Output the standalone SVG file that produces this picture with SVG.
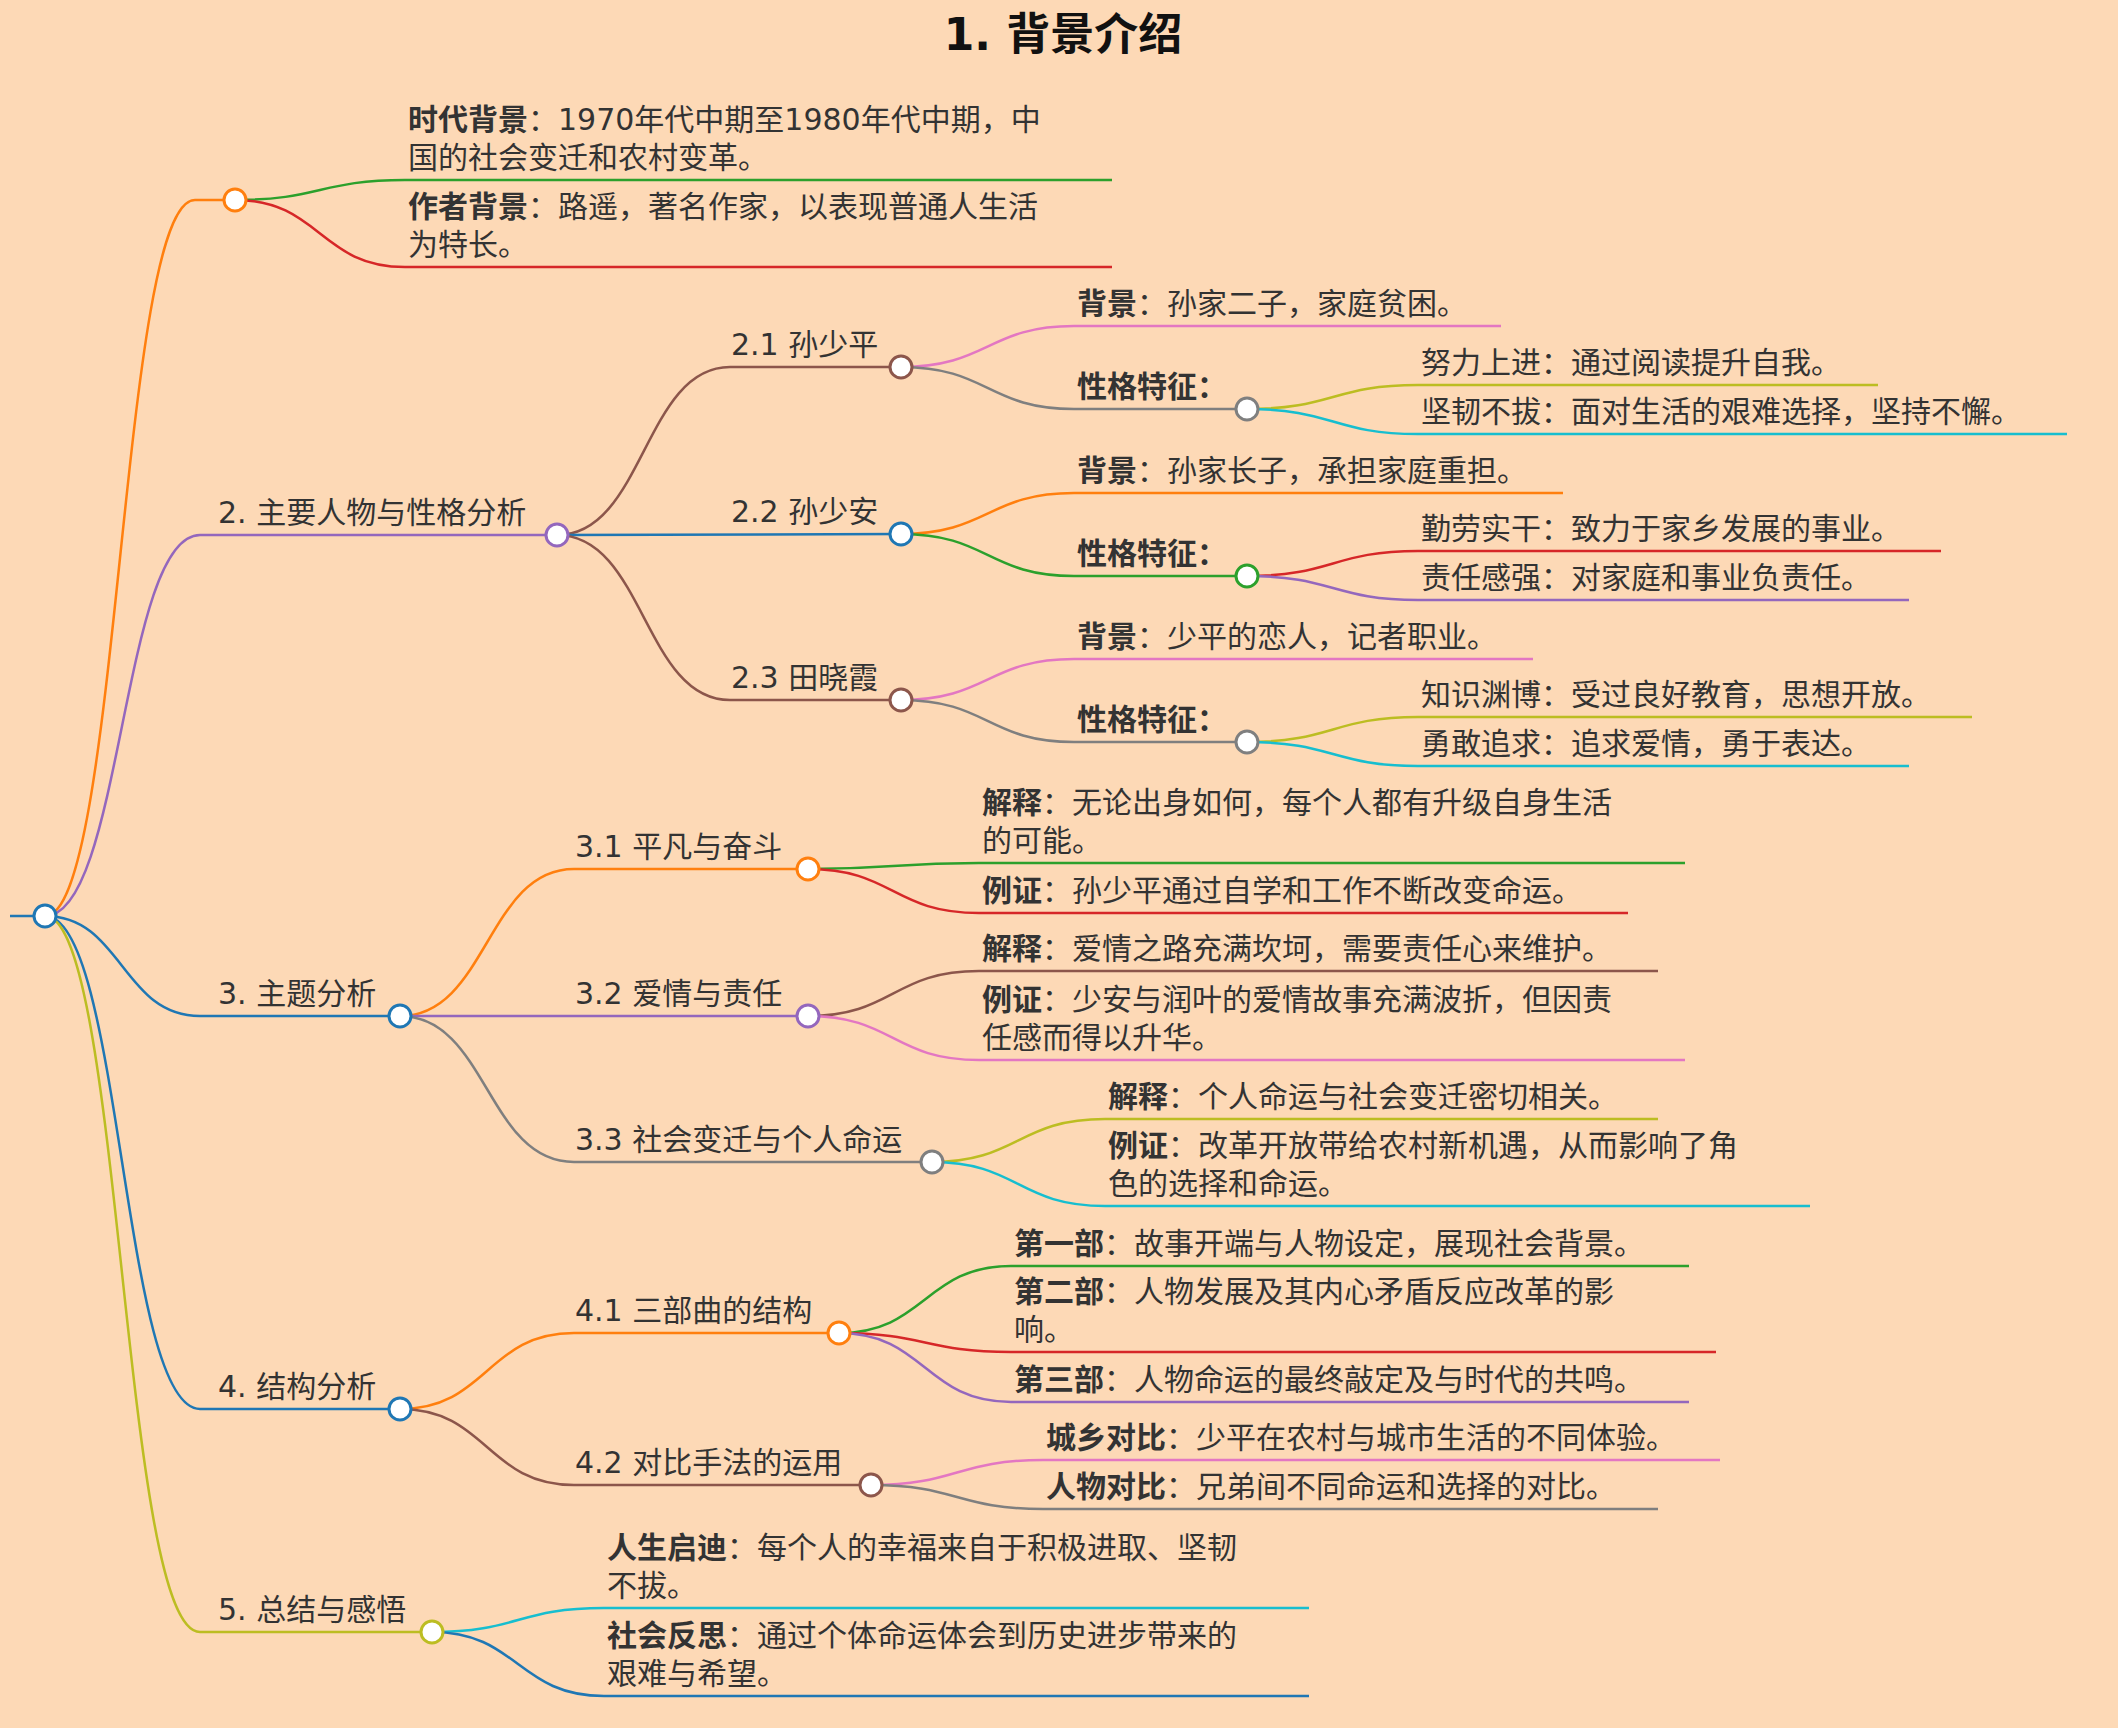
<svg xmlns="http://www.w3.org/2000/svg" width="2118" height="1728" viewBox="0 0 2118 1728">
<style>
text{font-family:"DejaVu Sans","Noto Sans CJK SC",sans-serif;font-size:30px;fill:#333}
.b{font-weight:bold}
#edges path{fill:none;stroke-width:2.5}
.n{fill:#fff;stroke-width:3}
</style>
<rect width="2118" height="1728" fill="#fdd9b6"/>
<text x="1063" y="50" text-anchor="middle" class="b" style="font-size:44px;fill:#111">1. 背景介绍</text>
<g id="edges">
<path d="M10 916 L45 916" stroke="#1f77b4"/>
<path d="M45 916 C120 916 120 200 195 200 L235 200" stroke="#ff7f0e"/>
<path d="M45 916 C122 916 122 535 200 535 L557 535" stroke="#9467bd"/>
<path d="M45 916 C122 916 122 1016 200 1016 L400 1016" stroke="#1f77b4"/>
<path d="M45 916 C122 916 122 1409 200 1409 L400 1409" stroke="#1f77b4"/>
<path d="M45 916 C122 916 122 1632 200 1632 L432 1632" stroke="#bcbd22"/>
<path d="M235 200 C320 200 320 180 405 180 L1112 180" stroke="#2ca02c"/>
<path d="M235 200 C320 200 320 267 405 267 L1112 267" stroke="#d62728"/>
<path d="M557 535 C644 535 644 367 730 367 L901 367" stroke="#8c564b"/>
<path d="M557 535 L901 534" stroke="#1f77b4"/>
<path d="M557 535 C644 535 644 700 730 700 L901 700" stroke="#8c564b"/>
<path d="M901 367 C988 367 988 326 1074 326 L1501 326" stroke="#e377c2"/>
<path d="M901 367 C988 367 988 409 1074 409 L1247 409" stroke="#7f7f7f"/>
<path d="M1247 409 C1333 409 1333 385 1418 385 L1878 385" stroke="#bcbd22"/>
<path d="M1247 409 C1333 409 1333 434 1418 434 L2067 434" stroke="#17becf"/>
<path d="M901 534 C988 534 988 493 1074 493 L1563 493" stroke="#ff7f0e"/>
<path d="M901 534 C988 534 988 576 1074 576 L1247 576" stroke="#2ca02c"/>
<path d="M1247 576 C1333 576 1333 551 1418 551 L1941 551" stroke="#d62728"/>
<path d="M1247 576 C1333 576 1333 600 1418 600 L1909 600" stroke="#9467bd"/>
<path d="M901 700 C988 700 988 659 1074 659 L1533 659" stroke="#e377c2"/>
<path d="M901 700 C988 700 988 742 1074 742 L1247 742" stroke="#7f7f7f"/>
<path d="M1247 742 C1333 742 1333 717 1418 717 L1972 717" stroke="#bcbd22"/>
<path d="M1247 742 C1333 742 1333 766 1418 766 L1909 766" stroke="#17becf"/>
<path d="M400 1016 C487 1016 487 869 574 869 L808 869" stroke="#ff7f0e"/>
<path d="M400 1016 L808 1016" stroke="#9467bd"/>
<path d="M400 1016 C487 1016 487 1162 574 1162 L932 1162" stroke="#7f7f7f"/>
<path d="M808 869 C893 869 893 863 979 863 L1685 863" stroke="#2ca02c"/>
<path d="M808 869 C893 869 893 913 979 913 L1628 913" stroke="#d62728"/>
<path d="M808 1016 C893 1016 893 971 979 971 L1658 971" stroke="#8c564b"/>
<path d="M808 1016 C893 1016 893 1060 979 1060 L1685 1060" stroke="#e377c2"/>
<path d="M932 1162 C1018 1162 1018 1119 1105 1119 L1658 1119" stroke="#bcbd22"/>
<path d="M932 1162 C1018 1162 1018 1206 1105 1206 L1810 1206" stroke="#17becf"/>
<path d="M400 1409 C487 1409 487 1333 574 1333 L839 1333" stroke="#ff7f0e"/>
<path d="M400 1409 C487 1409 487 1485 574 1485 L871 1485" stroke="#8c564b"/>
<path d="M839 1333 C925 1333 925 1266 1011 1266 L1689 1266" stroke="#2ca02c"/>
<path d="M839 1333 C925 1333 925 1352 1011 1352 L1716 1352" stroke="#d62728"/>
<path d="M839 1333 C925 1333 925 1402 1011 1402 L1689 1402" stroke="#9467bd"/>
<path d="M871 1485 C957 1485 957 1460 1043 1460 L1720 1460" stroke="#e377c2"/>
<path d="M871 1485 C957 1485 957 1509 1043 1509 L1658 1509" stroke="#7f7f7f"/>
<path d="M432 1632 C518 1632 518 1608 604 1608 L1309 1608" stroke="#17becf"/>
<path d="M432 1632 C518 1632 518 1696 604 1696 L1309 1696" stroke="#1f77b4"/>
</g>
<g id="root"><circle class="n" cx="45" cy="916" r="11" stroke="#1f77b4"/></g>
<g id="b1"><circle class="n" cx="235" cy="200" r="11" stroke="#ff7f0e"/></g>
<g id="b1a"><text x="408" y="130"><tspan class="b">时代背景</tspan>：1970年代中期至1980年代中期，中</text><text x="408" y="168">国的社会变迁和农村变革。</text></g>
<g id="b1b"><text x="408" y="217"><tspan class="b">作者背景</tspan>：路遥，著名作家，以表现普通人生活</text><text x="408" y="255">为特长。</text></g>
<g id="b2"><text x="218" y="523">2. 主要人物与性格分析</text><circle class="n" cx="557" cy="535" r="11" stroke="#9467bd"/></g>
<g id="n21"><text x="731" y="355">2.1 孙少平</text><circle class="n" cx="901" cy="367" r="11" stroke="#8c564b"/></g>
<g id="n21a"><text x="1077" y="314"><tspan class="b">背景</tspan>：孙家二子，家庭贫困。</text></g>
<g id="n21b"><text x="1077" y="397" class="b">性格特征：</text><circle class="n" cx="1247" cy="409" r="11" stroke="#7f7f7f"/></g>
<g id="n21b1"><text x="1421" y="373">努力上进：通过阅读提升自我。</text></g>
<g id="n21b2"><text x="1421" y="422">坚韧不拔：面对生活的艰难选择，坚持不懈。</text></g>
<g id="n22"><text x="731" y="522">2.2 孙少安</text><circle class="n" cx="901" cy="534" r="11" stroke="#1f77b4"/></g>
<g id="n22a"><text x="1077" y="481"><tspan class="b">背景</tspan>：孙家长子，承担家庭重担。</text></g>
<g id="n22b"><text x="1077" y="564" class="b">性格特征：</text><circle class="n" cx="1247" cy="576" r="11" stroke="#2ca02c"/></g>
<g id="n22b1"><text x="1421" y="539">勤劳实干：致力于家乡发展的事业。</text></g>
<g id="n22b2"><text x="1421" y="588">责任感强：对家庭和事业负责任。</text></g>
<g id="n23"><text x="731" y="688">2.3 田晓霞</text><circle class="n" cx="901" cy="700" r="11" stroke="#8c564b"/></g>
<g id="n23a"><text x="1077" y="647"><tspan class="b">背景</tspan>：少平的恋人，记者职业。</text></g>
<g id="n23b"><text x="1077" y="730" class="b">性格特征：</text><circle class="n" cx="1247" cy="742" r="11" stroke="#7f7f7f"/></g>
<g id="n23b1"><text x="1421" y="705">知识渊博：受过良好教育，思想开放。</text></g>
<g id="n23b2"><text x="1421" y="754">勇敢追求：追求爱情，勇于表达。</text></g>
<g id="b3"><text x="218" y="1004">3. 主题分析</text><circle class="n" cx="400" cy="1016" r="11" stroke="#1f77b4"/></g>
<g id="n31"><text x="575" y="857">3.1 平凡与奋斗</text><circle class="n" cx="808" cy="869" r="11" stroke="#ff7f0e"/></g>
<g id="n31a"><text x="982" y="813"><tspan class="b">解释</tspan>：无论出身如何，每个人都有升级自身生活</text><text x="982" y="851">的可能。</text></g>
<g id="n31b"><text x="982" y="901"><tspan class="b">例证</tspan>：孙少平通过自学和工作不断改变命运。</text></g>
<g id="n32"><text x="575" y="1004">3.2 爱情与责任</text><circle class="n" cx="808" cy="1016" r="11" stroke="#9467bd"/></g>
<g id="n32a"><text x="982" y="959"><tspan class="b">解释</tspan>：爱情之路充满坎坷，需要责任心来维护。</text></g>
<g id="n32b"><text x="982" y="1010"><tspan class="b">例证</tspan>：少安与润叶的爱情故事充满波折，但因责</text><text x="982" y="1048">任感而得以升华。</text></g>
<g id="n33"><text x="575" y="1150">3.3 社会变迁与个人命运</text><circle class="n" cx="932" cy="1162" r="11" stroke="#7f7f7f"/></g>
<g id="n33a"><text x="1108" y="1107"><tspan class="b">解释</tspan>：个人命运与社会变迁密切相关。</text></g>
<g id="n33b"><text x="1108" y="1156"><tspan class="b">例证</tspan>：改革开放带给农村新机遇，从而影响了角</text><text x="1108" y="1194">色的选择和命运。</text></g>
<g id="b4"><text x="218" y="1397">4. 结构分析</text><circle class="n" cx="400" cy="1409" r="11" stroke="#1f77b4"/></g>
<g id="n41"><text x="575" y="1321">4.1 三部曲的结构</text><circle class="n" cx="839" cy="1333" r="11" stroke="#ff7f0e"/></g>
<g id="n41a"><text x="1014" y="1254"><tspan class="b">第一部</tspan>：故事开端与人物设定，展现社会背景。</text></g>
<g id="n41b"><text x="1014" y="1302"><tspan class="b">第二部</tspan>：人物发展及其内心矛盾反应改革的影</text><text x="1014" y="1340">响。</text></g>
<g id="n41c"><text x="1014" y="1390"><tspan class="b">第三部</tspan>：人物命运的最终敲定及与时代的共鸣。</text></g>
<g id="n42"><text x="575" y="1473">4.2 对比手法的运用</text><circle class="n" cx="871" cy="1485" r="11" stroke="#8c564b"/></g>
<g id="n42a"><text x="1046" y="1448"><tspan class="b">城乡对比</tspan>：少平在农村与城市生活的不同体验。</text></g>
<g id="n42b"><text x="1046" y="1497"><tspan class="b">人物对比</tspan>：兄弟间不同命运和选择的对比。</text></g>
<g id="b5"><text x="218" y="1620">5. 总结与感悟</text><circle class="n" cx="432" cy="1632" r="11" stroke="#bcbd22"/></g>
<g id="n5a"><text x="607" y="1558"><tspan class="b">人生启迪</tspan>：每个人的幸福来自于积极进取、坚韧</text><text x="607" y="1596">不拔。</text></g>
<g id="n5b"><text x="607" y="1646"><tspan class="b">社会反思</tspan>：通过个体命运体会到历史进步带来的</text><text x="607" y="1684">艰难与希望。</text></g>
</svg>
